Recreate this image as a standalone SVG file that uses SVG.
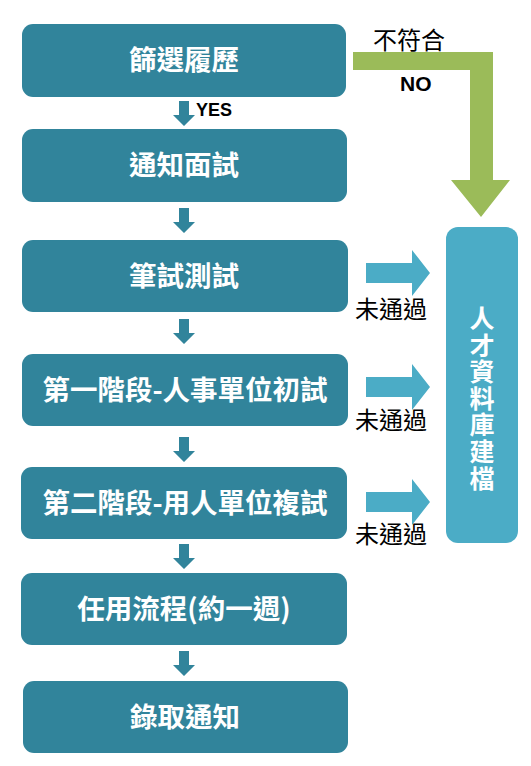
<svg xmlns="http://www.w3.org/2000/svg" width="531" height="766" viewBox="0 0 531 766">
<style>
.box{fill:#31849b}
.bt{fill:#fff;font-family:"Noto Sans CJK TC","Liberation Sans",sans-serif;font-weight:bold;font-size:27.5px;text-anchor:middle}
.vt{fill:#fff;font-family:"Noto Sans CJK TC","Liberation Sans",sans-serif;font-weight:bold;font-size:25px;writing-mode:vertical-rl;letter-spacing:1.6px}
.lbl{fill:#000;font-family:"Noto Sans CJK TC","Liberation Sans",sans-serif;font-size:24px}
.lblb{fill:#000;font-family:"Liberation Sans","Noto Sans CJK TC",sans-serif;font-weight:bold}
.down{fill:#31849b}
.right{fill:#4bacc6}
</style>
<defs>
<path id="dn" d="M-5,0 H5 V14 H11 L0,25 L-11,14 H-5 Z"/>
<path id="rt" d="M0,-10 H46 V-23 L64,0 L46,23 V10 H0 Z"/>
</defs>
<rect width="531" height="766" fill="#fff"/>
<g id="connectors">
<use href="#dn" class="down" x="184" y="101"/>
<use href="#dn" class="down" x="184" y="208"/>
<use href="#dn" class="down" x="184" y="319"/>
<use href="#dn" class="down" x="184" y="437"/>
<use href="#dn" class="down" x="184" y="544"/>
<use href="#dn" class="down" x="184" y="651"/>
<use href="#rt" class="right" x="366" y="273"/>
<use href="#rt" class="right" x="366" y="387"/>
<use href="#rt" class="right" x="366" y="502"/>
<path d="M353,52 H493 V180 H510 L481,217 L451,180 H470 V70 H353 Z" fill="#9bbb59"/>
<text class="lblb" x="196" y="116" font-size="18">YES</text>
<text class="lbl" x="373" y="49">不符合</text>
<text class="lblb" x="400" y="91" font-size="21">NO</text>
<text class="lbl" x="355" y="318">未通過</text>
<text class="lbl" x="355" y="429">未通過</text>
<text class="lbl" x="355" y="543">未通過</text>
</g>
<g id="n1"><rect class="box" x="22" y="24" width="324" height="73" rx="11"/><text class="bt" x="184" y="70">篩選履歷</text></g>
<g id="n2"><rect class="box" x="22" y="129" width="325" height="73" rx="11"/><text class="bt" x="184" y="175">通知面試</text></g>
<g id="n3"><rect class="box" x="22" y="240" width="326" height="72" rx="11"/><text class="bt" x="184" y="286">筆試測試</text></g>
<g id="n4"><rect class="box" x="22" y="354" width="326" height="72" rx="11"/><text class="bt" x="185" y="400">第一階段-人事單位初試</text></g>
<g id="n5"><rect class="box" x="21" y="467" width="326" height="72" rx="11"/><text class="bt" x="185" y="513">第二階段-用人單位複試</text></g>
<g id="n6"><rect class="box" x="21" y="573" width="326" height="72" rx="11"/><text class="bt" x="184" y="619">任用流程(約一週)</text></g>
<g id="n7"><rect class="box" x="23" y="681" width="325" height="72" rx="11"/><text class="bt" x="185" y="727">錄取通知</text></g>
<g id="n8"><rect x="446" y="227" width="72" height="316" rx="12" fill="#4bacc6"/>
<text class="vt" x="482" y="306">人才資料庫建檔</text></g>
</svg>
